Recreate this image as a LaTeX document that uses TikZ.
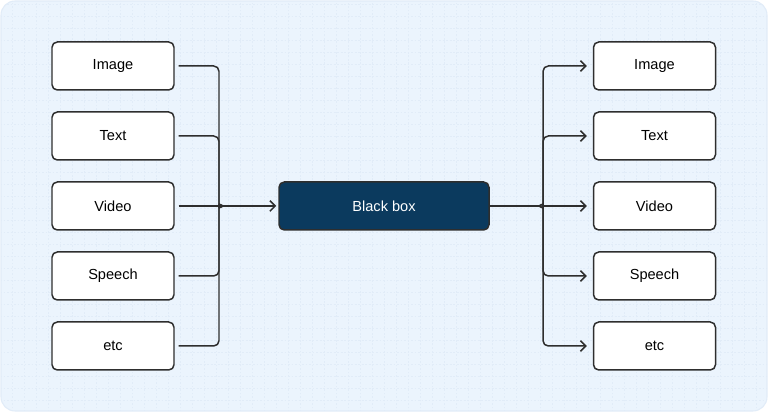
\documentclass[tikz,border=0pt]{standalone}
\usepackage{fontspec}
\setmainfont{Liberation Sans}
\usetikzlibrary{positioning,calc,arrows.meta}
\definecolor{bgblue}{HTML}{EBF4FD}
\definecolor{gridblue}{HTML}{E1ECF8}
\definecolor{boxblue}{HTML}{0B3A5E}
\definecolor{linegray}{HTML}{2E2E2E}
\tikzset{
  item/.style={draw=linegray, line width=0.85pt, fill=white, rounded corners=3pt,
    minimum width=122*0.02cm, minimum height=48*0.02cm, inner sep=0pt,
    font=\fontsize{8.3}{10}\selectfont},
  link/.style={draw=linegray, line width=0.85pt, rounded corners=3pt},
  arr/.style={link, -{Straight Barb[length=3pt,width=6pt,line width=0.85pt]}}
}
\begin{document}
\begin{tikzpicture}[x=0.02cm,y=0.02cm]
    % canvas
    \useasboundingbox (0,0) rectangle (768,412);
    \fill[white] (0,0) rectangle (768,412);
    \begin{scope}
      \clip[rounded corners=8pt] (1,1) rectangle (767,411);
      \fill[bgblue] (1,1) rectangle (767,411);
      \draw[gridblue, line width=0.3pt, dash pattern=on 1pt off 1pt] (0,0) grid[step=12*0.02cm] (768,412);
    \end{scope}
    \draw[gridblue, line width=0.6pt, rounded corners=8pt] (1,1) rectangle (767,411);

    % inputs
    \foreach \t [count=\i] in {Image,Text,Video,Speech,etc}
      \node[item] (in\i) at (113,{416-70*\i}) {\t};
    % black box
    \node[item, fill=boxblue, draw=linegray, minimum width=210*0.02cm, text=white] (box) at (384,206) {Black box};
    % outputs
    \foreach \t [count=\i] in {Image,Text,Video,Speech,etc}
      \node[item] (out\i) at (654.5,{416-70*\i}) {\t};

    \coordinate (jl) at (219,206);
    \coordinate (jr) at (543,206);

    % left brace
    \foreach \i in {1,2} {
      \draw[link, shorten <=4*0.02cm] (in\i.east) -| ($(jl)+(0,6)$) .. controls ($(jl)+(0,2)$) .. ($(jl)+(4,0)$);
    }
    \foreach \i in {4,5} {
      \draw[link, shorten <=4*0.02cm] (in\i.east) -| ($(jl)+(0,-6)$) .. controls ($(jl)+(0,-2)$) .. ($(jl)+(4,0)$);
    }
    \draw[arr, shorten <=4*0.02cm, shorten >=2*0.02cm] (in3.east) -- (box.west);

    % right brace
    \draw[link] (box.east) -- ($(jr)+(-4,0)$);
    \foreach \i in {1,2} {
      \draw[arr, shorten >=6*0.02cm] ($(jr)+(-4,0)$) .. controls ($(jr)+(0,2)$) .. ($(jr)+(0,6)$) |- (out\i.west);
    }
    \foreach \i in {4,5} {
      \draw[arr, shorten >=6*0.02cm] ($(jr)+(-4,0)$) .. controls ($(jr)+(0,-2)$) .. ($(jr)+(0,-6)$) |- (out\i.west);
    }
    \draw[arr, shorten >=6*0.02cm] (jr) -- (out3.west);
\end{tikzpicture}
\end{document}
